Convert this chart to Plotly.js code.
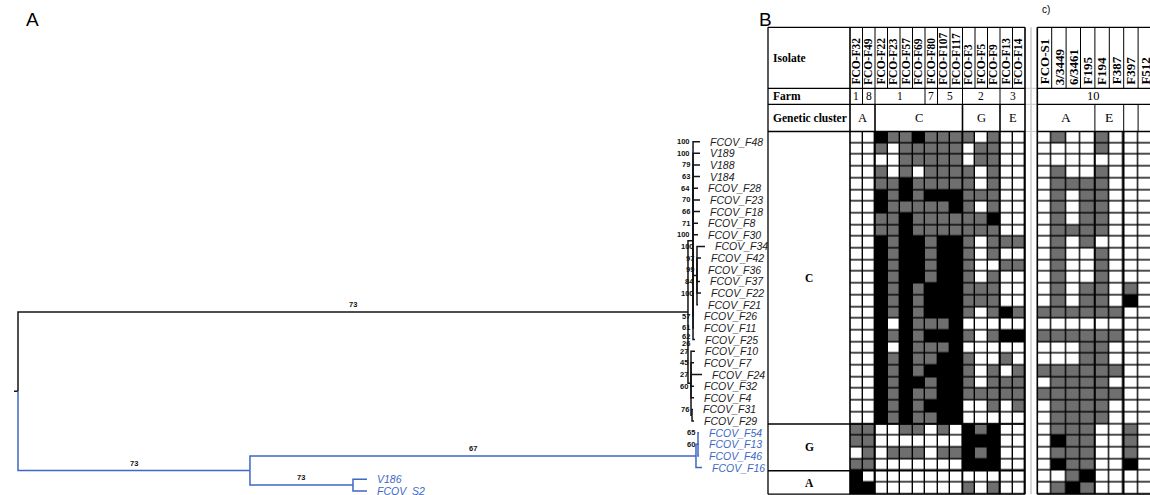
<!DOCTYPE html>
<html>
<head>
<meta charset="utf-8">
<script src="https://cdn.plot.ly/plotly-3.0.1.min.js"></script>
<style>
  html, body { margin: 0; padding: 0; background: #fff; }
  #chart { width: 1150px; height: 495px; }
</style>
</head>
<body>
<div id="chart"></div>
<script>
// ---------------- Phylogeny (panel A) ----------------
const leafNames = ['FCOV_F48','V189','V188','V184','FCOV_F28','FCOV_F23','FCOV_F18','FCOV_F8','FCOV_F30',
  'FCOV_F34','FCOV_F42','FCOV_F36','FCOV_F37','FCOV_F22','FCOV_F21','FCOV_F26','FCOV_F11','FCOV_F25',
  'FCOV_F10','FCOV_F7','FCOV_F24','FCOV_F32','FCOV_F4','FCOV_F31','FCOV_F29',
  'FCOV_F54','FCOV_F13','FCOV_F46','FCOV_F16','V186','FCOV_S2'];
// root-to-tip distance of every isolate
const leafDepth = [1.0149,1.0149,1.0149,1.0149,1.0119,1.0149,1.0149,1.0119,1.0119,
  1.0223,1.0164,1.0119,1.0149,1.0164,1.0119,1.0060,1.0060,1.0074,
  1.0074,1.0060,1.0179,1.0060,1.0060,1.0045,1.0060,
  1.0134,1.0134,1.0134,1.0179,0.5193,0.5193];
// bootstrap support shown beside each tip ('' = none)
const leafSupport = ['100','100','79','63','64','70','66','71','100',
  '100','97','99','84','100','','57','61','62/26',
  '27','45','27','60','','76','',
  '65','60','','','',''];
// internal nodes
const nodeNames = ['root','cladeC','C1','C1a','C2','C2a','cladeBlue','cladeG','G1','cladeA'];
const nodeDepth = [0, 0.9970, 1.0045, 1.0104, 1.0015, 1.0030, 0.3452, 1.0089, 1.0119, 0.4985];
const nodeChildren = [
  ['cladeC','cladeBlue'],
  ['C1','C2'],
  ['FCOV_F48','V189','V188','V184','FCOV_F28','FCOV_F23','FCOV_F18','FCOV_F8','FCOV_F30','C1a','FCOV_F26','FCOV_F11','FCOV_F25'],
  ['FCOV_F34','FCOV_F42','FCOV_F36','FCOV_F37','FCOV_F22','FCOV_F21'],
  ['FCOV_F10','FCOV_F7','FCOV_F24','FCOV_F32','FCOV_F4','C2a'],
  ['FCOV_F31','FCOV_F29'],
  ['cladeG','cladeA'],
  ['G1','FCOV_F16'],
  ['FCOV_F54','FCOV_F13','FCOV_F46'],
  ['V186','FCOV_S2']
];
const branchNames = ['cladeC','cladeBlue','cladeG','cladeA'];
const branchSupport = ['73','73','67','73'];
const rootStub = 0.006;

// ---------------- Presence table (panel B) ----------------
const isolatesB = ['FCO-F32','FCO-F49','FCO-F22','FCO-F23','FCO-F57','FCO-F69','FCO-F80','FCO-F107','FCO-F117','FCO-F3','FCO-F5','FCO-F9','FCO-F13','FCO-F14'];
const farmsB    = ['1','8','1','1','1','1','7','5','5','2','2','2','3','3'];
const clustersB = ['A','A','C','C','C','C','C','C','C','G','G','G','E','E'];
const rowClusters = ['C','C','C','C','C','C','C','C','C','C','C','C','C','C','C','C','C','C','C','C','C','C','C','C','C','G','G','G','G','A','A'];
// 0 = absent, 1 = grey, 2 = black
const matrixB = [
  [0,0,2,1,1,2,1,1,1,1,0,1,0,0],
  [0,0,1,0,1,1,1,1,1,0,1,1,0,0],
  [0,0,0,0,1,1,1,1,1,0,1,1,0,0],
  [0,0,1,0,1,0,1,1,1,1,0,1,0,0],
  [0,0,1,1,2,1,1,1,1,1,0,1,0,0],
  [0,0,2,1,2,1,2,2,2,1,1,1,0,0],
  [0,0,2,1,1,1,1,1,2,1,0,1,0,0],
  [0,0,1,1,2,1,1,1,1,1,1,2,0,0],
  [0,0,1,1,2,1,1,1,1,1,1,1,0,0],
  [0,0,2,1,2,2,1,2,2,1,0,1,1,1],
  [0,0,2,1,2,2,1,2,2,1,0,1,0,0],
  [0,0,2,1,2,2,1,2,2,1,0,0,1,1],
  [0,0,2,1,2,2,1,2,2,1,0,1,0,0],
  [0,0,2,1,2,1,2,2,2,1,1,1,0,0],
  [0,0,2,1,2,1,2,2,2,1,1,1,0,0],
  [0,0,2,1,2,1,2,2,2,1,0,1,2,1],
  [0,0,2,0,2,1,1,1,2,0,0,0,0,0],
  [0,0,2,1,2,1,2,2,2,1,0,1,2,2],
  [0,0,2,0,2,1,1,1,2,0,0,0,0,0],
  [0,0,2,1,2,1,1,2,2,1,0,0,1,0],
  [0,0,2,1,2,1,2,2,2,1,0,1,0,1],
  [0,0,2,1,2,2,1,2,2,1,0,1,1,1],
  [0,0,2,1,2,1,1,2,2,1,1,1,1,1],
  [0,0,2,1,2,1,2,2,2,0,0,1,0,1],
  [0,0,2,1,2,1,1,2,2,0,0,0,0,0],
  [1,1,0,0,1,1,0,1,0,2,1,2,0,0],
  [1,1,0,0,0,0,0,0,0,2,2,2,0,0],
  [0,1,0,1,1,1,0,1,1,2,1,2,0,0],
  [1,1,0,0,0,0,0,0,0,2,2,2,0,0],
  [2,0,0,0,0,0,0,0,0,0,0,0,0,0],
  [2,2,0,0,0,0,0,0,0,1,0,1,0,0]
];

// ---------------- Presence table (panel c) ----------------
const isolatesC = ['FCO-S1','3/3449','6/3461','F195','F194','F387','F397','F512'];
const farmsC    = ['10','10','10','10','10','10','10','10'];
const clustersC = ['A','A','A','A','E','E','',''];
const matrixC = [
  [0,1,0,0,1,0,0,0],
  [0,0,0,0,1,0,0,0],
  [0,0,0,0,0,0,0,0],
  [0,1,0,0,1,0,0,0],
  [0,1,1,1,1,0,0,0],
  [0,1,0,1,1,0,0,0],
  [0,1,0,1,1,0,0,0],
  [0,1,0,1,1,0,0,0],
  [0,1,1,1,1,0,0,0],
  [0,1,0,1,0,0,0,0],
  [0,1,0,0,1,0,0,0],
  [0,1,0,0,1,0,0,0],
  [0,1,0,0,1,0,0,0],
  [0,1,0,1,1,0,1,0],
  [0,1,0,1,1,0,2,0],
  [1,1,1,1,1,1,0,0],
  [0,0,0,0,0,0,0,0],
  [1,1,1,1,1,1,0,0],
  [0,0,0,1,1,0,0,0],
  [0,0,0,1,1,0,0,0],
  [1,1,1,1,1,1,0,0],
  [0,1,1,1,1,0,0,0],
  [1,1,1,1,1,1,0,0],
  [0,1,1,1,1,0,0,0],
  [0,1,1,1,1,0,0,0],
  [0,1,1,1,0,0,1,0],
  [0,2,1,1,0,0,1,0],
  [0,1,1,1,0,0,1,0],
  [0,2,1,1,0,0,2,0],
  [0,0,1,2,0,0,0,0],
  [0,1,2,1,0,0,0,0]
];

// ---------------- Page geometry (pixels) ----------------
const W = 1150, H = 495;
const px = x => x / W;
const py = y => 1 - y / H;

const TREE_X0 = 18, TREE_UNIT = 672, TREE_RIGHT = 770;
const LEAF0 = 141.7, LEAF_STEP = 11.64;
const TIP_GAP = 9;

const TAB_LEFT = 768, B_LEFT = 850, COLW_B = 12.5;
const C_LEFT = 1037.3, COLW_C = 14.4;
const HEAD_TOP = 27.3, ISO_BOT = 88.3, FARM_BOT = 104.3, BODY_TOP = 131.5, ROW_H = 11.7;
const nRows = matrixB.length;
const B_RIGHT = B_LEFT + COLW_B * isolatesB.length;
const BODY_BOT = BODY_TOP + ROW_H * nRows;

const BLACK = '#141414', BLUE = '#3d68c4';
const SERIF = '"Liberation Serif", "Times New Roman", serif';
const SANS = '"Liberation Sans", Arial, sans-serif';

// ---------------- Tree layout ----------------
const leafIdx = {}; leafNames.forEach((n, i) => leafIdx[n] = i);
const nodeIdx = {}; nodeNames.forEach((n, i) => nodeIdx[n] = i);
const parentOf = {};
nodeChildren.forEach((kids, i) => kids.forEach(k => parentOf[k] = nodeNames[i]));

function pos(name) {
  if (name in leafIdx) return { x: leafDepth[leafIdx[name]], y: leafIdx[name] };
  const i = nodeIdx[name];
  const kids = nodeChildren[i].map(pos);
  return { x: nodeDepth[i], y: (kids[0].y + kids[kids.length - 1].y) / 2 };
}
const blueSet = new Set();
(function mark(n) { blueSet.add(n); if (n in nodeIdx) nodeChildren[nodeIdx[n]].forEach(mark); })('cladeBlue');
const colorOf = n => blueSet.has(n) ? BLUE : BLACK;

const seg = { [BLACK]: { x: [], y: [] }, [BLUE]: { x: [], y: [] } };
const rootPos = pos('root');
seg[BLACK].x.push(rootPos.x - rootStub, rootPos.x, null);
seg[BLACK].y.push(rootPos.y, rootPos.y, null);
nodeNames.forEach((n, i) => {
  const p = pos(n);
  nodeChildren[i].forEach(c => {
    const q = pos(c);
    const s = seg[colorOf(c)];
    s.x.push(p.x, p.x, q.x, null);
    s.y.push(p.y, q.y, q.y, null);
  });
});

const traces = [BLACK, BLUE].map(col => ({
  type: 'scatter', mode: 'lines', x: seg[col].x, y: seg[col].y,
  xaxis: 'x', yaxis: 'y', line: { color: col, width: 1.5 },
  hoverinfo: 'skip', showlegend: false
}));

const annotations = [];
// tip labels
leafNames.forEach((n, i) => {
  annotations.push({
    xref: 'x', yref: 'y', x: leafDepth[i], y: i, text: '<i>' + n + '</i>',
    xanchor: 'left', yanchor: 'middle', xshift: TIP_GAP - 1, showarrow: false,
    font: { family: SANS, size: 10.5, color: blueSet.has(n) ? BLUE : '#1c1c1c' }
  });
});
// bootstrap values next to the tips
leafNames.forEach((n, i) => {
  if (!leafSupport[i]) return;
  const parts = leafSupport[i].split('/');
  const px0 = pos(parentOf[n]).x;
  parts.forEach((t, k) => {
    annotations.push({
      xref: 'x', yref: 'y', x: px0, y: i, text: '<b>' + t + '</b>',
      xanchor: 'right', yanchor: 'middle', xshift: -1,
      yshift: parts.length > 1 ? (k === 0 ? 3 : -4) : 0, showarrow: false,
      font: { family: SANS, size: 7.5, color: '#111' }
    });
  });
});
// bootstrap values on the long branches
branchNames.forEach((n, i) => {
  const q = pos(n), p = pos(parentOf[n]);
  annotations.push({
    xref: 'x', yref: 'y', x: (p.x + q.x) / 2, y: q.y, text: '<b>' + branchSupport[i] + '</b>',
    xanchor: 'center', yanchor: 'bottom', yshift: 1, showarrow: false,
    font: { family: SANS, size: 7.5, color: '#111' }
  });
});

// ---------------- Tables ----------------
const greyScale = [[0, '#ffffff'], [0.25, '#ffffff'], [0.25, '#6f6f6f'], [0.75, '#6f6f6f'], [0.75, '#000000'], [1, '#000000']];
const rowIds = matrixB.map((_, i) => i);
traces.push({
  type: 'heatmap', z: matrixB, x: isolatesB.map((_, j) => j), y: rowIds,
  xaxis: 'x2', yaxis: 'y2', colorscale: greyScale, zmin: 0, zmax: 2,
  showscale: false, xgap: 1.4, ygap: 1.4, hoverinfo: 'skip'
});
traces.push({
  type: 'heatmap', z: matrixC, x: isolatesC.map((_, j) => j), y: rowIds,
  xaxis: 'x3', yaxis: 'y2', colorscale: greyScale, zmin: 0, zmax: 2,
  showscale: false, xgap: 1.4, ygap: 1.4, hoverinfo: 'skip'
});

function groups(arr) {
  const out = [];
  arr.forEach((v, i) => {
    const last = out[out.length - 1];
    if (last && v !== '' && last.label === v) last.end = i;
    else out.push({ label: v, start: i, end: i });
  });
  return out;
}

const shapes = [];
const hline = (x0, x1, y, w, c) => shapes.push({ type: 'line', xref: 'paper', yref: 'paper',
  x0: px(x0), x1: px(x1), y0: py(y), y1: py(y), line: { color: c || '#000', width: w || 1 } });
const vline = (x, y0, y1, w, c) => shapes.push({ type: 'line', xref: 'paper', yref: 'paper',
  x0: px(x), x1: px(x), y0: py(y0), y1: py(y1), line: { color: c || '#000', width: w || 1 } });
const text = (x, y, t, size, opts) => annotations.push(Object.assign({
  xref: 'paper', yref: 'paper', x: px(x), y: py(y), text: t, showarrow: false,
  xanchor: 'center', yanchor: 'middle', font: { family: SERIF, size: size, color: '#000' }
}, opts || {}));

// black ground under the grids (shows through the cell gaps)
shapes.push({ type: 'rect', xref: 'paper', yref: 'paper', layer: 'below',
  x0: px(B_LEFT), x1: px(B_RIGHT), y0: py(BODY_BOT), y1: py(BODY_TOP),
  fillcolor: '#000', line: { width: 0 } });
shapes.push({ type: 'rect', xref: 'paper', yref: 'paper', layer: 'below',
  x0: px(C_LEFT), x1: 1, y0: py(BODY_BOT), y1: py(BODY_TOP),
  fillcolor: '#000', line: { width: 0 } });

// separator between the two tables
vline(1031, HEAD_TOP, BODY_BOT, 1.5, '#c9c9c9');
[ISO_BOT, FARM_BOT, BODY_TOP].forEach(y => hline(B_RIGHT, C_LEFT, y, 1, '#c9c9c9'));

// --- panel B frame
const colB = k => B_LEFT + COLW_B * k;
[HEAD_TOP, ISO_BOT, FARM_BOT, BODY_TOP, BODY_BOT].forEach(y => hline(TAB_LEFT, B_RIGHT, y, 1.3));
vline(TAB_LEFT, HEAD_TOP, BODY_BOT, 1.3);
vline(B_LEFT, HEAD_TOP, BODY_BOT, 1.6);
vline(B_RIGHT, HEAD_TOP, BODY_BOT, 1.6);
for (let k = 1; k < isolatesB.length; k++) vline(colB(k), HEAD_TOP, ISO_BOT, 1);
groups(farmsB).slice(1).forEach(g => vline(colB(g.start), ISO_BOT, FARM_BOT, 1));
groups(clustersB).slice(1).forEach(g => vline(colB(g.start), FARM_BOT, BODY_BOT, 1.6));
groups(rowClusters).slice(1).forEach(g => hline(TAB_LEFT, B_RIGHT, BODY_TOP + ROW_H * g.start, 1.6));

// --- panel B text
text(TAB_LEFT + 3, (HEAD_TOP + ISO_BOT) / 2, '<b>Isolate</b>', 11.5, { xanchor: 'left' });
text(TAB_LEFT + 3, (ISO_BOT + FARM_BOT) / 2, '<b>Farm</b>', 11.5, { xanchor: 'left' });
text(TAB_LEFT + 3, (FARM_BOT + BODY_TOP) / 2, '<b>Genetic cluster</b>', 11.5, { xanchor: 'left' });
groups(rowClusters).forEach(g => text((TAB_LEFT + B_LEFT) / 2,
  BODY_TOP + ROW_H * (g.start + g.end + 1) / 2, '<b>' + g.label + '</b>', 11.5));
isolatesB.forEach((n, j) => text(colB(j + 0.5), ISO_BOT - 1.5, '<b>' + n + '</b>', 11.5,
  { textangle: -90, yanchor: 'bottom' }));
groups(farmsB).forEach(g => text(colB((g.start + g.end + 1) / 2), (ISO_BOT + FARM_BOT) / 2, g.label, 11.5));
groups(clustersB).forEach(g => text(colB((g.start + g.end + 1) / 2), (FARM_BOT + BODY_TOP) / 2, g.label, 12.5));

// --- panel c frame
const colC = k => C_LEFT + COLW_C * k;
[HEAD_TOP, ISO_BOT, FARM_BOT, BODY_TOP, BODY_BOT].forEach(y => hline(C_LEFT, W, y, 1.3));
vline(C_LEFT, HEAD_TOP, BODY_BOT, 1.6);
for (let k = 1; k < isolatesC.length; k++) vline(colC(k), HEAD_TOP, ISO_BOT, 1);
groups(farmsC).slice(1).forEach(g => vline(colC(g.start), ISO_BOT, FARM_BOT, 1));
const gC = groups(clustersC);
gC.slice(1).forEach((g, i) => {
  vline(colC(g.start), FARM_BOT, BODY_TOP, 1);
  if (g.label !== '' || gC[i].label !== '') vline(colC(g.start), BODY_TOP, BODY_BOT, 1.6);
});

// --- panel c text
isolatesC.forEach((n, j) => text(colC(j + 0.5), ISO_BOT - 1.5, '<b>' + n + '</b>', 13,
  { textangle: -90, yanchor: 'bottom' }));
groups(farmsC).forEach(g => text((colC(g.start) + Math.min(colC(g.end + 1), W)) / 2,
  (ISO_BOT + FARM_BOT) / 2, g.label, 12.5));
gC.forEach(g => { if (g.label) text(colC((g.start + g.end + 1) / 2), (FARM_BOT + BODY_TOP) / 2, g.label, 13.5); });

// panel letters
text(32, 19, 'A', 19, { font: { family: SANS, size: 19, color: '#000' } });
text(765, 19, 'B', 19, { font: { family: SANS, size: 19, color: '#000' } });
text(1046, 9, 'c)', 10, { font: { family: SANS, size: 10, color: '#000' } });

// ---------------- Layout ----------------
const layout = {
  width: W, height: H,
  margin: { l: 0, r: 0, t: 0, b: 0, pad: 0 },
  paper_bgcolor: '#ffffff', plot_bgcolor: 'rgba(0,0,0,0)',
  showlegend: false,
  xaxis: { domain: [0, px(TREE_RIGHT)], range: [-TREE_X0 / TREE_UNIT, (TREE_RIGHT - TREE_X0) / TREE_UNIT], visible: false, anchor: 'y' },
  yaxis: { domain: [0, 1], range: [(H - LEAF0) / LEAF_STEP, -LEAF0 / LEAF_STEP], visible: false, anchor: 'x' },
  xaxis2: { domain: [px(B_LEFT), px(B_RIGHT)], range: [-0.5, isolatesB.length - 0.5], visible: false, anchor: 'y2' },
  yaxis2: { domain: [py(BODY_BOT), py(BODY_TOP)], range: [nRows - 0.5, -0.5], visible: false, anchor: 'x2' },
  xaxis3: { domain: [px(C_LEFT), 1], range: [-0.5, -0.5 + (W - C_LEFT) / COLW_C], visible: false, anchor: 'y2' },
  shapes: shapes,
  annotations: annotations
};

Plotly.newPlot('chart', traces, layout, { staticPlot: true, displayModeBar: false });
</script>
</body>
</html>
